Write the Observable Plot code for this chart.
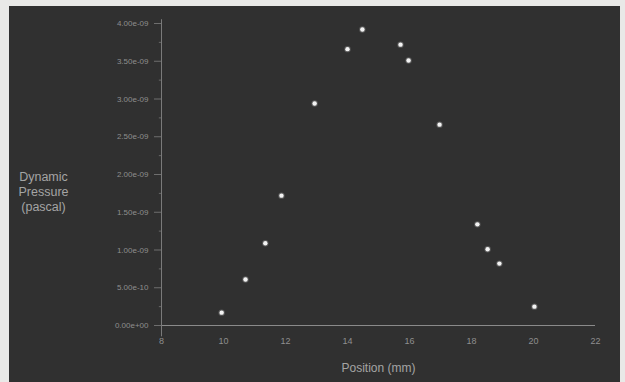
<!DOCTYPE html>
<html>
<head>
<meta charset="utf-8">
<script src="https://cdn.jsdelivr.net/npm/d3@7"></script>
<script src="https://cdn.jsdelivr.net/npm/@observablehq/plot@0.6"></script>
<style>
  html, body { margin: 0; padding: 0; background: #e9e9e7; width: 625px; height: 382px; overflow: hidden; }
  #chart { position: absolute; left: 9px; top: 6px; }
  #chart svg { background: #303030; display: block; }
</style>
</head>
<body>
<div id="chart"></div>
<script>
const positions = [9.94, 10.71, 11.35, 11.87, 12.94, 14.0, 14.48, 15.71, 15.97, 16.97, 18.19, 18.52, 18.90, 20.03];
const pressures = [0.17e-9, 0.61e-9, 1.09e-9, 1.72e-9, 2.94e-9, 3.66e-9, 3.92e-9, 3.72e-9, 3.51e-9, 2.66e-9, 1.34e-9, 1.01e-9, 0.82e-9, 0.25e-9];
const xTicks = [8, 10, 12, 14, 16, 18, 20, 22];
const yTicks = [0, 0.5e-9, 1e-9, 1.5e-9, 2e-9, 2.5e-9, 3e-9, 3.5e-9, 4e-9];
const yMinorTicks = [0.25e-9, 0.75e-9, 1.25e-9, 1.75e-9, 2.25e-9, 2.75e-9, 3.25e-9, 3.75e-9];
const xLabel = "Position (mm)";
const yLabelLines = ["Dynamic", "Pressure", "(pascal)"];

const data = positions.map((x, i) => ({x, y: pressures[i]}));
const fmt = v => v.toExponential(2).replace(/e([+-])(\d)$/, "e$10$2");

const plot = Plot.plot({
  width: 611,
  height: 376,
  marginLeft: 152,
  marginRight: 25,
  marginTop: 17,
  marginBottom: 57,
  style: {color: "#9a9a9a", fontFamily: "Liberation Sans, Arial, sans-serif", background: "#303030"},
  x: {domain: [8, 22], ticks: xTicks, label: null},
  y: {domain: [0, 4e-9], ticks: yTicks, label: null},
  marks: [
    Plot.ruleY([0], {x1: 7.8, x2: 22, stroke: "#8a8a8a", strokeWidth: 1}),
    Plot.ruleX([8], {y1: -0.15e-9, y2: 4.05e-9, stroke: "#7a7a7a", strokeWidth: 1}),
    Plot.ruleY(yMinorTicks, {x1: 7.93, x2: 8, stroke: "#666666", strokeWidth: 1}),
    Plot.axisX({ticks: xTicks, tickSize: 0, tickPadding: 12, fontSize: 9, fill: "#8e8e8e", label: null}),
    Plot.axisY({ticks: yTicks, tickSize: 7, tickPadding: 6, fontSize: 8, fill: "#8e8e8e", stroke: "#6e6e6e", tickFormat: fmt, label: null}),
    Plot.text([xLabel], {frameAnchor: "bottom", dy: 46, text: d => d, fontSize: 12, fill: "#a4a4a4"}),
    Plot.text([yLabelLines.join("\n")], {frameAnchor: "left", dx: -118, dy: 17, text: d => d, fontSize: 12.5, lineHeight: 1.2, textAnchor: "middle", fill: "#a4a4a4"}),
    Plot.dot(data, {x: "x", y: "y", r: 2.2, fill: "#f2f2f2", stroke: "#ffffff", strokeOpacity: 0.2, strokeWidth: 2})
  ]
});
document.getElementById("chart").appendChild(plot);
</script>
</body>
</html>
